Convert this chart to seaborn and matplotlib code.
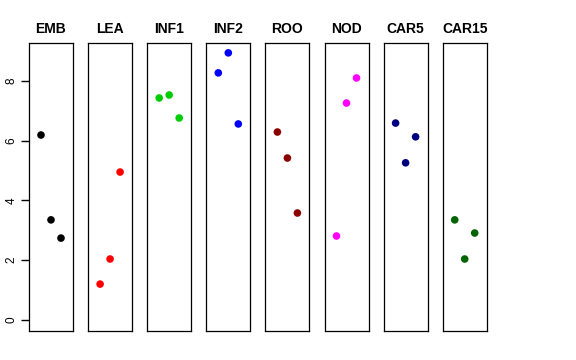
import pandas as pd
import matplotlib
matplotlib.use("Agg")
import matplotlib.pyplot as plt
import seaborn as sns

tissues = ["EMB", "LEA", "INF1", "INF2", "ROO", "NOD", "CAR5", "CAR15"]
colors = ["black", "red", "#00CD00", "blue", "#8B0000", "magenta", "#000080", "#006400"]
replicate = [1, 2, 3]
emb = [6.19, 3.35, 2.74]
lea = [1.20, 2.04, 4.95]
inf1 = [7.43, 7.53, 6.76]
inf2 = [8.27, 8.94, 6.56]
roo = [6.29, 5.42, 3.58]
nod = [2.81, 7.26, 8.10]
car5 = [6.59, 5.26, 6.13]
car15 = [3.35, 2.04, 2.91]

values = [emb, lea, inf1, inf2, roo, nod, car5, car15]
df = pd.concat(
    [pd.DataFrame({"tissue": t, "rep": replicate, "expr": v}) for t, v in zip(tissues, values)],
    ignore_index=True,
)

sns.set_style("ticks")
plt.rcParams["font.family"] = ["Liberation Sans", "DejaVu Sans"]

fig = plt.figure(figsize=(5.76, 3.6), dpi=100)
W, H = 576, 360
for i, (t, c) in enumerate(zip(tissues, colors)):
    left = 29 + i * 59.1
    ax = fig.add_axes([left / W, 1 - 331 / H, 44 / W, 288 / H])
    sns.scatterplot(data=df[df.tissue == t], x="rep", y="expr", color=c,
                    s=30, edgecolor="none", ax=ax, legend=False)
    ax.set_xlim(-0.2, 4.2)
    ax.set_ylim(-0.37, 9.27)
    ax.set_xticks([])
    ax.set_xlabel("")
    ax.set_ylabel("")
    for sp in ax.spines.values():
        sp.set_visible(True)
        sp.set_color("black")
        sp.set_linewidth(0.9)
    ax.set_title(t, fontsize=10, fontweight="bold", pad=7, color="black")
    if i == 0:
        ax.set_yticks([0, 2, 4, 6, 8])
        ax.set_yticklabels(["0", "2", "4", "6", "8"], rotation=90, va="center", fontsize=8.5)
        ax.tick_params(axis="y", which="major", left=True, length=5.5, width=1.0, pad=3,
                       direction="out", color="black", labelcolor="black")
    else:
        ax.set_yticks([])

fig.savefig("out.png", dpi=100)
